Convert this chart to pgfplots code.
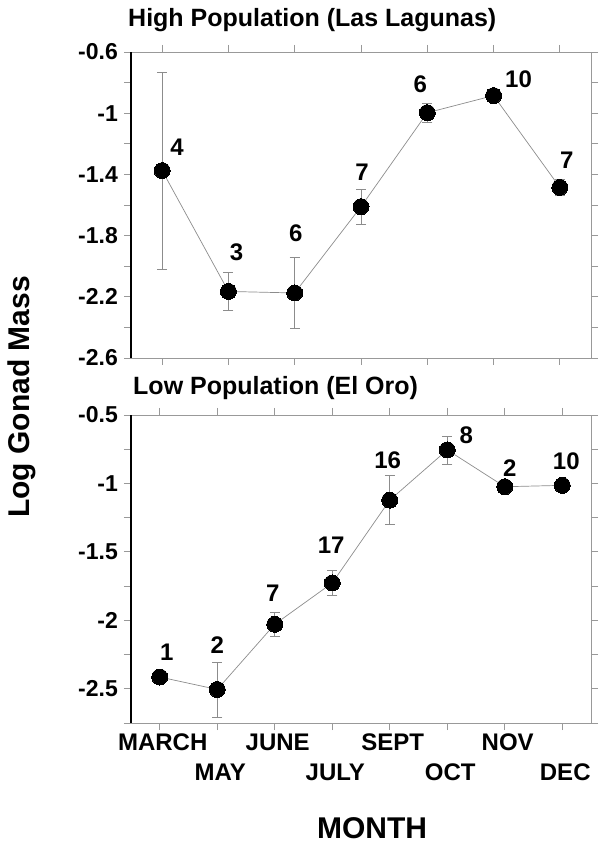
\documentclass[border=0pt]{standalone}
\usepackage{pgfplots}
\pgfplotsset{compat=1.18}
\usepackage{fontspec}
\setmainfont{Liberation Sans}
\newcommand{\tickfont}{\fontsize{23}{27}\selectfont\bfseries}
\newcommand{\numfont}{\fontsize{24}{28}\selectfont\bfseries}
\newcommand{\monfont}{\fontsize{24}{28}\selectfont\bfseries}
\newcommand{\titfont}{\fontsize{25}{29}\selectfont\bfseries}
\newcommand{\labfont}{\fontsize{30}{34}\selectfont\bfseries}
\colorlet{framegray}{black!40}
\colorlet{datagray}{black!45}
\pgfplotsset{
  panel/.style={
    scale only axis, width=460pt, anchor=south west, clip=false,
    axis line style={framegray, line width=0.8pt},
    tick style={framegray, line width=0.8pt},
    tick align=outside, major tick length=7pt, minor tick length=7pt,
    xtick pos=both, ytick pos=both,
    xticklabel pos=lower, yticklabel pos=left,
    yticklabel style={font=\tickfont, inner sep=0pt, xshift=-6pt},
    xticklabel style={font=\monfont, inner sep=0pt},
  },
  dataplot/.style={
    datagray, line width=0.7pt, mark=*, mark size=8pt,
    mark options={black, fill=black, line width=0pt},
    error bars/.cd, y dir=both, y explicit,
    error bar style={datagray, line width=0.6pt},
    error mark options={rotate=90, mark size=5pt, datagray, line width=0.6pt},
  },
}
\begin{document}
\begin{tikzpicture}[x=1pt,y=1pt]
\useasboundingbox (0,0) rectangle (598,843);

% ---------- top panel ----------
\begin{axis}[panel, at={(131pt,485pt)}, height=306pt,
  xmin=-0.47, xmax=6.47, ymin=-2.6, ymax=-0.6,
  xtick={0,1,2,3,4,5,6}, xticklabels={},
  ytick={-2.6,-2.2,-1.8,-1.4,-1,-0.6},
  yticklabels={-2.6,-2.2,-1.8,-1.4,-1,-0.6},
  minor ytick={-2.4,-2.0,-1.6,-1.2,-0.8},
]
\addplot[dataplot] table[x=x, y=y, y error=e] {
x y e
0 -1.375 0.645
1 -2.165 0.125
2 -2.175 0.230
3 -1.611 0.115
4 -0.997 0.060
5 -0.885 0.030
6 -1.485 0.050
};
\draw[black, line width=2pt] (rel axis cs:0,0) -- (rel axis cs:0,1);
\node[font=\numfont] at ([shift={(15pt,25pt)}]axis cs:0,-1.386) {4};
\node[font=\numfont] at ([shift={(8pt,39pt)}]axis cs:1,-2.167) {3};
\node[font=\numfont] at ([shift={(1pt,60pt)}]axis cs:2,-2.177) {6};
\node[font=\numfont] at ([shift={(1pt,34pt)}]axis cs:3,-1.611) {7};
\node[font=\numfont] at ([shift={(-7pt,28pt)}]axis cs:4,-0.997) {6};
\node[font=\numfont] at ([shift={(25pt,16pt)}]axis cs:5,-0.885) {10};
\node[font=\numfont] at ([shift={(7pt,27pt)}]axis cs:6,-1.485) {7};
\end{axis}

% ---------- bottom panel ----------
\begin{axis}[panel, at={(131pt,120pt)}, height=308pt,
  xmin=-0.5, xmax=7.5, ymin=-2.75, ymax=-0.5,
  xtick={0,1,2,3,4,5,6,7},
  xticklabels={MARCH,MAY,JUNE,JULY,SEPT,OCT,NOV,DEC},
  xticklabel style={xshift=3pt, yshift={-4pt-mod(\ticknum,2)*30pt}},
  ytick={-2.5,-2,-1.5,-1,-0.5},
  yticklabels={-2.5,-2,-1.5,-1,-0.5},
  minor ytick={-2.75,-2.25,-1.75,-1.25,-0.75},
]
\addplot[dataplot] table[x=x, y=y, y error=e] {
x y e
0 -2.414 0.0
1 -2.505 0.200
2 -2.029 0.088
3 -1.727 0.093
4 -1.122 0.178
5 -0.755 0.103
6 -1.024 0.020
7 -1.014 0.020
};
\draw[black, line width=2pt] (rel axis cs:0,0) -- (rel axis cs:0,1);
\node[font=\numfont] at ([shift={(7pt,25pt)}]axis cs:0,-2.414) {1};
\node[font=\numfont] at ([shift={(0pt,45pt)}]axis cs:1,-2.512) {2};
\node[font=\numfont] at ([shift={(-2pt,31pt)}]axis cs:2,-2.029) {7};
\node[font=\numfont] at ([shift={(-1pt,38pt)}]axis cs:3,-1.727) {17};
\node[font=\numfont] at ([shift={(-2pt,40pt)}]axis cs:4,-1.122) {16};
\node[font=\numfont] at ([shift={(19pt,16pt)}]axis cs:5,-0.763) {8};
\node[font=\numfont] at ([shift={(5pt,19pt)}]axis cs:6,-1.024) {2};
\node[font=\numfont] at ([shift={(4pt,24pt)}]axis cs:7,-1.014) {10};
\end{axis}

% ---------- titles and axis labels ----------
\node[anchor=west, font=\titfont, inner sep=0pt] at (128,823) {High Population (Las Lagunas)};
\node[anchor=west, font=\titfont, inner sep=0pt] at (133,455) {Low Population (El Oro)};
\node[rotate=90, font=\labfont, inner sep=0pt] at (22,446) {Log Gonad Mass};
\node[font=\labfont, inner sep=0pt] at (372,15) {MONTH};
\end{tikzpicture}
\end{document}
